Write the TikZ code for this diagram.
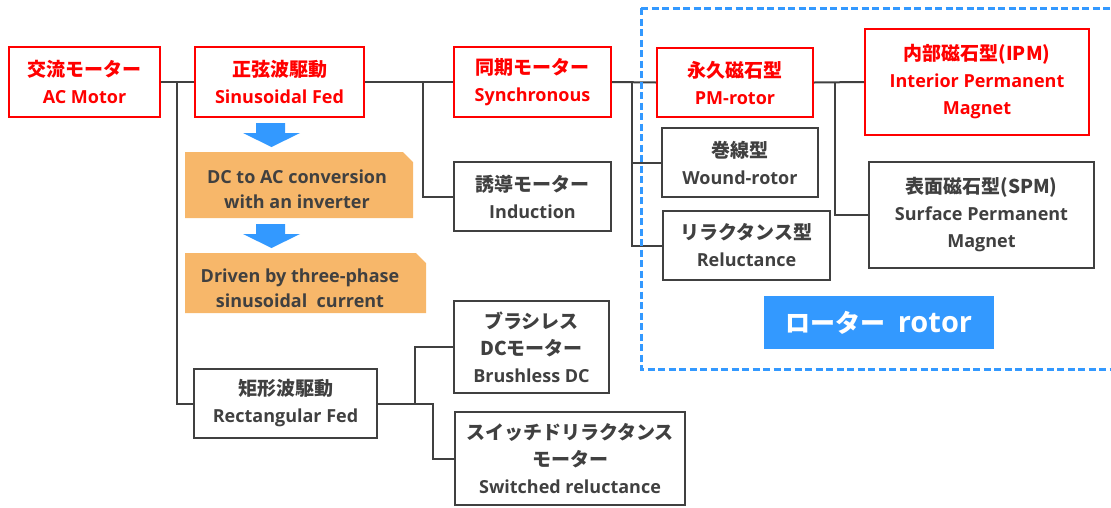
\documentclass[tikz,border=0pt]{standalone}
\usepackage{fontspec}
\newfontfamily\jpf{Noto Sans CJK JP}
\newfontfamily\enf{Open Sans}
\definecolor{lred}{RGB}{255,0,0}
\definecolor{lgray}{RGB}{64,64,64}
\definecolor{lblue}{RGB}{51,153,255}
\definecolor{lorange}{RGB}{247,183,106}
\newcommand{\J}[1]{{\jpf\bfseries\fontsize{19}{27}\selectfont #1}}
\newcommand{\E}[1]{{\enf\bfseries\fontsize{18}{27}\selectfont #1}}
\tikzset{
  redbox/.style={draw=lred, line width=2pt, text=lred, align=center, inner sep=0pt, font=\fontsize{18}{27}\selectfont},
  graybox/.style={draw=lgray, line width=2pt, text=lgray, align=center, inner sep=0pt, font=\fontsize{18}{27}\selectfont},
  conn/.style={draw=lgray, line width=2pt},
  orangebox/.style={fill=lorange, draw=none},
  otext/.style={text=lgray, align=center, inner sep=0pt, font=\fontsize{18}{25}\selectfont},
  bluearrow/.style={fill=lblue, draw=none},
}
\begin{document}
\begin{tikzpicture}[x=1pt,y=-1pt]
\useasboundingbox (0,0) rectangle (1111,507);
% connector junctions
\coordinate (j1) at (177,82);
\coordinate (j2) at (423,82);
\coordinate (j3) at (632,82);
\coordinate (j4) at (835,82);
\coordinate (j5) at (415,403.5);
\coordinate (j6) at (433,403.5);
% boxes
\node[redbox, minimum width=151, minimum height=70] (ac) at (84.5,82) {\J{交流モーター}\\\E{AC Motor}};
\node[redbox, minimum width=169, minimum height=70] (sin) at (279.5,82) {\J{正弦波駆動}\\\E{Sinusoidal Fed}};
\node[redbox, minimum width=157, minimum height=70] (syn) at (532.5,82) {\J{同期モーター}\\\E{Synchronous}};
\node[graybox, minimum width=157, minimum height=69] (ind) at (532.5,196.5) {\J{誘導モーター}\\\E{Induction}};
\node[redbox, minimum width=156, minimum height=69] (pm) at (735,82.5) {\J{永久磁石型}\\\E{PM-rotor}};
\node[redbox, minimum width=224, minimum height=106] (ipm) at (977,82) {\J{内部磁石型(IPM)}\\\E{Interior Permanent}\\\E{Magnet}};
\node[graybox, minimum width=156, minimum height=69] (wnd) at (740,162.5) {\J{巻線型}\\\E{Wound-rotor}};
\node[graybox, minimum width=167, minimum height=69] (rel) at (746.5,245.5) {\J{リラクタンス型}\\\E{Reluctance}};
\node[graybox, minimum width=225, minimum height=106] (spm) at (981.5,215) {\J{表面磁石型(SPM)}\\\E{Surface Permanent}\\\E{Magnet}};
\node[graybox, minimum width=183, minimum height=69] (rect) at (285.5,403.5) {\J{矩形波駆動}\\\E{Rectangular Fed}};
\node[graybox, minimum width=155, minimum height=92] (bdc) at (531.5,347) {\J{ブラシレス}\\\J{DCモーター}\\\E{Brushless DC}};
\node[graybox, minimum width=230, minimum height=93] (swr) at (570,458.5) {\J{スイッチドリラクタンス}\\\J{モーター}\\\E{Switched reluctance}};
% connectors
\draw[conn] (ac.east) -- (sin.west);
\draw[conn] (j1) |- (rect.west);
\draw[conn] (sin.east) -- (syn.west);
\draw[conn] (j2) |- (ind.west);
\draw[conn] (syn.east) -- (pm.west);
\draw[conn] (j3) |- (wnd.west);
\draw[conn] (j3) |- (rel.west);
\draw[conn] (pm.east) -- (ipm.west);
\draw[conn] (j4) |- (spm.west);
\draw[conn] (rect.east) -- (j6) |- (swr.west);
\draw[conn] (j5) |- (bdc.west);
% blue arrows
\fill[bluearrow] (256,123) -- (285,123) -- (285,133) -- (300,133) -- (271.5,147) -- (243,133) -- (256,133) -- cycle;
\fill[bluearrow] (256,224) -- (285,224) -- (285,234) -- (300,234) -- (271.5,248) -- (243,234) -- (256,234) -- cycle;
% orange boxes
\fill[orangebox] (185,152) -- (403,152) -- (413,162) -- (413,218) -- (185,218) -- cycle;
\node[otext] (o1) at (297,189.5) {\E{DC to AC conversion}\\\E{with an inverter}};
\fill[orangebox] (185,253) -- (416,253) -- (426,263) -- (426,313) -- (185,313) -- cycle;
\node[otext] (o2) at (300,288) {\E{Driven by three-phase}\\\E{sinusoidal\ \ current}};
% rotor region
\draw[lblue, line width=3pt, dash pattern=on 7pt off 3.5pt] (641,8) -- (1115,8) (641,8) -- (641,369) -- (1115,369);
\node[fill=lblue, minimum width=230, minimum height=53, inner sep=0pt, text=white] (rotor) at (879,322.5)
  {{\jpf\bfseries\fontsize{25}{30}\selectfont ローター}\hspace{12pt}{\enf\bfseries\fontsize{29}{30}\selectfont rotor}};
\end{tikzpicture}
\end{document}
